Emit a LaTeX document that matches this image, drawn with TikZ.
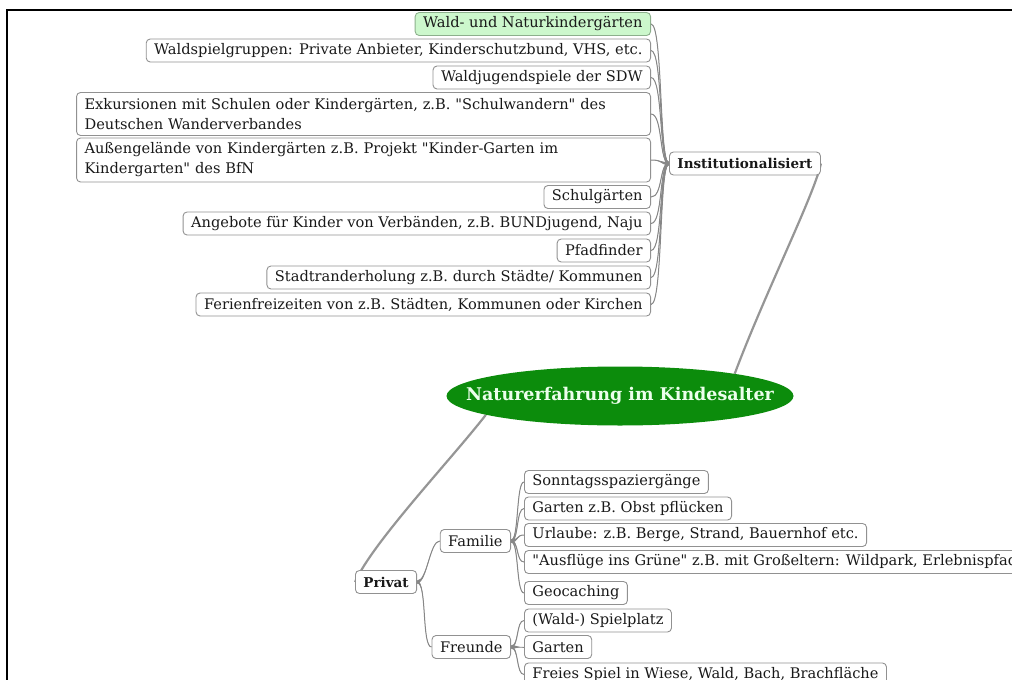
\documentclass[tikz,border=0pt]{standalone}
\usepackage{fontspec}
\setmainfont{DejaVu Serif}[Ligatures=TeXOff]
\usetikzlibrary{shapes.geometric,calc,backgrounds}

\definecolor{rootgreen}{RGB}{12,140,12}
\definecolor{roottext}{RGB}{236,255,236}
\definecolor{boxline}{RGB}{145,145,145}
\definecolor{linkgray}{RGB}{135,135,135}
\definecolor{mainlinkgray}{RGB}{150,150,150}
\definecolor{leaffill}{RGB}{204,247,204}
\definecolor{leafline}{RGB}{140,175,140}
\definecolor{inkgray}{RGB}{25,25,25}

% tapered connector: #1 parent anchor, #2 child anchor,
% #3 / #4 horizontal offsets of the control points at parent / child
\newcommand{\taperlink}[4]{%
  \fill[linkgray] ($(#1)+(0,-1.5)$) .. controls ($(#1)+(#3,-1.5)$) and ($(#2)+(#4,0)$) .. (#2)
    .. controls ($(#2)+(#4,0)$) and ($(#1)+(#3,1.5)$) .. ($(#1)+(0,1.5)$) -- cycle;
  \draw[linkgray, line width=1pt] (#1) .. controls ($(#1)+(#3,0)$) and ($(#2)+(#4,0)$) .. (#2);}

\begin{document}
\begin{tikzpicture}[x=1pt,y=-1pt,
  topic/.style={draw=boxline, line width=0.9pt, rounded corners=4pt, fill=white,
    text=inkgray, inner xsep=8pt, inner ysep=0pt, minimum height=23pt,
    font=\fontsize{14.6}{20}\selectfont},
  twoline/.style={topic, align=left, text width=#1, minimum height=43pt},
  greenleaf/.style={topic, fill=leaffill, draw=leafline},
  branch/.style={topic, font=\fontsize{13.5}{16}\selectfont\bfseries},
  centre/.style={ellipse, fill=rootgreen, draw=none, inner sep=0pt,
    minimum width=347pt, minimum height=59pt, text=roottext,
    font=\fontsize{17.5}{20}\selectfont\bfseries},
  mainlink/.style={draw=mainlinkgray, line width=2.2pt}]

\useasboundingbox (0,0) rectangle (1012,680);
\clip (0,0) rectangle (1012,680);

% central topic
\node[centre] (root) at (620,396) {\makebox[0pt][c]{Naturerfahrung im Kindesalter}};

% institutional branch
\node[branch, anchor=west] (inst) at (669,163.5) {Institutionalisiert};
\node[greenleaf, anchor=east] (n1) at (651,24) {Wald- und Naturkindergärten};
\node[topic, anchor=east] (n2) at (651,50.5) {Waldspielgruppen: Private Anbieter, Kinderschutzbund, VHS, etc.};
\node[topic, anchor=east] (n3) at (651,77.5) {Waldjugendspiele der SDW};
\node[twoline=558pt, anchor=east] (n4) at (651,114) {Exkursionen mit Schulen oder Kindergärten, z.B. "Schulwandern" des\\Deutschen Wanderverbandes};
\node[twoline=558pt, anchor=east, minimum height=44pt] (n5) at (651,160) {Außengelände von Kindergärten z.B. Projekt "Kinder-Garten im\\Kindergarten" des BfN};
\node[topic, anchor=east] (n6) at (651,197) {Schulgärten};
\node[topic, anchor=east] (n7) at (651,223.5) {Angebote für Kinder von Verbänden, z.B. BUNDjugend, Naju};
\node[topic, anchor=east] (n8) at (651,250.5) {Pfadfinder};
\node[topic, anchor=east] (n9) at (651,277.5) {Stadtranderholung z.B. durch Städte/ Kommunen};
\node[topic, anchor=east] (n10) at (651,304.5) {Ferienfreizeiten von z.B. Städten, Kommunen oder Kirchen};

% private branch
\node[branch, anchor=west] (privat) at (355,582) {Privat};
\node[topic, anchor=east] (familie) at (511,541) {Familie};
\node[topic, anchor=east] (freunde) at (511,647) {Freunde};
\node[topic, anchor=west] (f1) at (524,482) {Sonntagsspaziergänge};
\node[topic, anchor=west] (f2) at (524,508.5) {Garten z.B. Obst pflücken};
\node[topic, anchor=west] (f3) at (524,535) {Urlaube: z.B. Berge, Strand, Bauernhof etc.};
\node[topic, anchor=west] (f4) at (524,562) {"Ausflüge ins Grüne" z.B. mit Großeltern: Wildpark, Erlebnispfad};
\node[topic, anchor=west] (f5) at (524,593) {Geocaching};
\node[topic, anchor=west] (g1) at (524,620.5) {(Wald-) Spielplatz};
\node[topic, anchor=west] (g2) at (524,647) {Garten};
\node[topic, anchor=west] (g3) at (524,674.5) {Freies Spiel in Wiese, Wald, Bach, Brachfläche};

% connectors behind the boxes
\begin{scope}[on background layer]
  \draw[mainlink] (root.11) .. controls +(30,-80) and +(-6,30) .. (inst.east);
  \draw[mainlink] (root.188) .. controls +(-35,45) and +(18,-40) .. (privat.west);
  \foreach \c in {n1,n2,n3,n4,n5,n6,n7,n8,n9,n10}
    \taperlink{inst.west}{\c.east}{-10}{12};
  \taperlink{privat.east}{familie.west}{10}{-10}
  \taperlink{privat.east}{freunde.west}{10}{-10}
  \foreach \c in {f1,f2,f3,f4,f5}
    \taperlink{familie.east}{\c.west}{8}{-8};
  \foreach \c in {g1,g2,g3}
    \taperlink{freunde.east}{\c.west}{8}{-8};
\end{scope}

% page frame
\draw[line width=2pt, black] (7,680) -- (7,10) -- (1012,10);
\end{tikzpicture}
\end{document}
